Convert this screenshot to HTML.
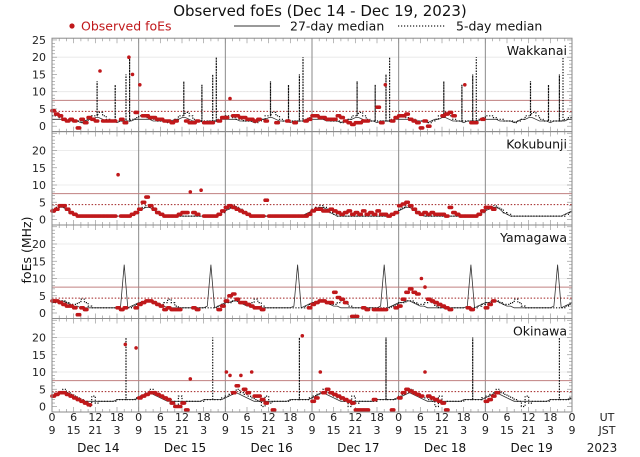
<!DOCTYPE html>
<html><head><meta charset="utf-8"><style>
html,body{margin:0;padding:0;background:#fff}
svg{display:block;font-family:"DejaVu Sans","Liberation Sans",sans-serif}
</style></head><body>
<svg id="chart" width="640" height="457" viewBox="0 0 640 457" xmlns="http://www.w3.org/2000/svg">
<text x="320" y="16" text-anchor="middle" font-size="15" fill="#111">Observed foEs (Dec 14 - Dec 19, 2023)</text>
<g>
<circle cx="72" cy="26" r="2.6" fill="#c0181b"/>
<text x="81" y="30.5" font-size="12.5" fill="#c0181b">Observed foEs</text>
<line x1="234" y1="26" x2="280" y2="26" stroke="#333" stroke-width="0.9"/>
<text x="290" y="30.5" font-size="12.5" fill="#111">27-day median</text>
<line x1="398" y1="26" x2="446" y2="26" stroke="#222" stroke-width="1.2" stroke-dasharray="1.2 1.8"/>
<text x="456" y="30.5" font-size="12.5" fill="#111">5-day median</text>
</g>
<text transform="translate(31,250) rotate(-90)" text-anchor="middle" font-size="12.5" fill="#111">foEs (MHz)</text>
<g id="panels"></g>
<g id="xaxis"></g>
</svg>
<script>
const stations = ["Wakkanai","Kokubunji","Yamagawa","Okinawa"];
const dayLabels = ["Dec 14","Dec 15","Dec 16","Dec 17","Dec 18","Dec 19"];
const utTicks = ["0","6","12","18"];
const jstTicks = ["9","15","21","3"];
const yTicksTop = [0,5,10,15,20,25];
const yTicks = [0,5,10,15,20];
const refSolid = 7.5;
const refDotted = 4.3;

// 27-day median, hourly (UT 0..23)
const med27Wakkanai = [2,2,2,2,1.5,1.5,1.5,1.5,1,1.5,2,2,2.5,2.5,2,1.5,1.5,1.5,1,1.5,1.5,1.5,1.5,2];
const med27Kokubunji = [2.5,3,3.5,3.5,3,2,1.5,1,1,1,1,1,1,1,1,1,1,1,1,1,1,1,1.5,2];
const med27Yamagawa = [3,3,3.5,3.5,3,2.5,2,2,1.5,1.5,1.5,1.5,1.5,1.5,1.5,1.5,1.5,1.5,1.5,2,14,1.5,2,2.5];
const med27Okinawa = [2.5,3,3.5,4,3.5,3,2.5,2,1.5,1.5,1.5,1.5,1.5,1.5,1.5,1.5,1.5,1.5,2,2,2,2,2,2];

// 5-day median, hourly (UT 0..23)
const med5Wakkanai = [3,3,2.5,2,2,1.5,1.5,1.5,1,1.5,2,3,13,4,3,2,1.5,12,1.5,1.5,15,20,2,2.5];
const med5Kokubunji = [3,3.5,4,3.5,3,2,1.5,1,1,1,1,1,1,1,1,1,1,1,1,1,1,1,1.5,2];
const med5Yamagawa = [3,3,3.5,3.5,3,2.5,2.5,3,4,3,2,1.5,1.5,1.5,1.5,1.5,1.5,1.5,1.5,1.5,1.5,1.5,2,2.5];
const med5Okinawa = [3,3.5,4,5,4,3.5,3,2.5,2,1.5,0,3,1,1.5,1.5,1.5,1.5,1.5,2,2,20,2,2,2.5];

// Observed foEs, hourly from Dec 14 00 UT
const obsWakkanai = [4.5,3.5,3,2,1.5,2,1.5,-0.5,2,1,2.5,2,1.5,16,1.5,1.5,1.5,1.5,null,2,1,20,15,4,
 12,3,3,2.5,2.5,2,2,1.5,1.5,1,1.5,null,null,1.5,1,1,1.5,null,1,1,1,null,1.5,2.5,
 2.5,8,3,3,2.5,2.5,2,2,1.5,2,null,1.5,null,null,1,null,null,1.5,null,1,null,null,1.5,2,
 3,3,2.5,2.5,2,2,2,3,2.5,1.5,1,0.5,1,1,1.5,1.5,null,null,5.5,1,12,null,1.5,2.5,
 3,3,3.5,2,1.5,1,-0.5,1.5,0,null,null,null,3,3.5,4,3,null,null,12,null,1,1,null,2];
const obsKokubunji = [2.5,3,4,4,3,2,1.5,1,1,1,1,1,1,1,1,1,1,1,13,1,1,1,1.5,2,
 3,5,6.5,4,3,2,1.5,1,1,1,1,1.5,2,2,8,2,1.5,8.5,1,1,1,1,1.5,2.5,
 3.5,4,3.5,3,2.5,2,1.5,1,1,1,1,5.6,1,1,1,1,1,1,1,1,1,1,1,1.5,
 2.5,3,3,2.5,2.5,3,2.5,2,1.5,2,2.5,1.5,2,1.5,2.5,1.5,2,1.5,2.5,1.5,1.5,1,1.5,2,
 4,4.5,5,4,3,2,1.5,2,1.5,2,1.5,1.5,1.5,1,3.5,2,1.5,1,1,1,1,1,1.5,2.5,
 3.5,3.5,3];
const obsYamagawa = [3.5,3.5,3,2.5,2,2,1.5,-0.5,1.5,1,null,null,null,null,null,null,null,null,1.5,1,1.5,null,null,1.5,
 2.5,3,3.5,3.5,3,2.5,2,1,1.5,1,1,1,null,null,null,1.5,1,null,null,null,null,null,1,2,
 3.5,5,5.5,4,3,3,2.5,2,1.5,1.5,1,null,null,null,null,null,null,null,null,null,null,null,null,1.5,
 2.5,3,3.5,3.5,3,3,6,4.5,4,3,null,-1,-1,null,1.5,1,null,1,1,1,1,null,null,1.5,
 2,4,6,7,6,5.5,10,7.5,4,3.5,3,2.5,2,1.5,1,null,null,null,null,1.5,1,null,null,null,
 1.5,2.5,3.5,null];
const obsOkinawa = [3,3.5,4,4,3.5,3,2.5,2,1.5,1,0.5,null,null,null,null,null,null,null,null,null,18,null,null,17,
 2.5,3,3.5,4,4,3.5,3,2.5,2,1,0,0,1,-1,8,null,null,null,null,null,null,null,null,null,
 10,9,4,6,9,5,4,10,3,3,2,1,null,-1,null,null,null,null,null,null,null,20.5,null,null,
 1.5,2.5,10,4,5,4,3.5,3,2.5,2,1.5,1,-1,-1,-1,-1,null,2,null,null,null,null,-1,null,
 2.5,4,5,4.5,4,3.5,3,10,3,2.5,2,1.5,1,-1,null,null,null,null,null,null,null,null,null,null,
 1.5,2,3,4];

const obsAll = [obsWakkanai,obsKokubunji,obsYamagawa,obsOkinawa];
const med27All = [med27Wakkanai,med27Kokubunji,med27Yamagawa,med27Okinawa];
const med5All = [med5Wakkanai,med5Kokubunji,med5Yamagawa,med5Okinawa];

const NS = "http://www.w3.org/2000/svg";
const X0 = 52, X1 = 572, DAYS = 6;
const panelBottoms = [131.7, 225, 318.5, 412];
const PH = 93.5, ZOFF = 5.5, YS = 3.45;
function xH(h){ return X0 + h*(X1-X0)/(DAYS*24); }
function mk(tag, attrs, parent){ const e=document.createElementNS(NS,tag); for(const k in attrs) e.setAttribute(k,attrs[k]); parent.appendChild(e); return e; }

const panelsG = document.getElementById("panels");
stations.forEach((st, si) => {
  const B = panelBottoms[si], T = B-PH;
  const yV = v => B - ZOFF - v*YS;
  const g = mk("g",{},panelsG);
  
  
  [10,20].forEach(v=>{ const l=mk("line",{x1:X0,x2:X1,y1:yV(v),y2:yV(v),stroke:"#e6e6e6","stroke-width":0.8},g);
    
     });
  for(let v=0; v<=25; v++){ const yy=yV(v); if(yy<T+1) continue;
    mk("line",{x1:X0,x2:X0+(v%5?3:5),y1:yy,y2:yy,stroke:"#999","stroke-width":0.7},g);
    mk("line",{x1:X1,x2:X1-(v%5?3:5),y1:yy,y2:yy,stroke:"#999","stroke-width":0.7},g); }
  for(let h=0; h<=144; h+=2){ const xx=xH(h), len = h%6?3:5;
    mk("line",{x1:xx,x2:xx,y1:B,y2:B-len,stroke:"#999","stroke-width":0.7},g);
    mk("line",{x1:xx,x2:xx,y1:T,y2:T+len,stroke:"#999","stroke-width":0.7},g); }
  for(let d=1; d<DAYS; d++){ const l=mk("line",{x1:xH(d*24),x2:xH(d*24),y1:T,y2:B,stroke:"#8a8a8a","stroke-width":1},g);
    
     }
  const r1=mk("line",{x1:X0,x2:X1,y1:yV(refSolid),y2:yV(refSolid),stroke:"#c08080","stroke-width":1},g);
  
  
  const r2=mk("line",{x1:X0,x2:X1,y1:yV(refDotted),y2:yV(refDotted),stroke:"#a02020","stroke-width":1,"stroke-dasharray":"1.5 1.8"},g);
  
  
  (si===0?yTicksTop:yTicks).forEach(v=>{ const t=mk("text",{x:46,y:yV(v)+4,"text-anchor":"end","font-size":11,fill:"#222"},g); t.textContent=v;
    
     });
  let d27=""; for(let h=0; h<=DAYS*24; h++){ const v=med27All[si][h%24]; d27+=(h?"L":"M")+xH(h).toFixed(1)+" "+yV(v).toFixed(1); }
  const p27=mk("path",{d:d27,fill:"none",stroke:"#333","stroke-width":0.8},g);
  
  
  // 5-day median: regular values as steps, large values as thin vertical spikes
  let d5="", last=med5All[si][23];
  for(let h=0; h<DAYS*24; h++){ const v=med5All[si][h%24];
    if(v>8){ const xs=xH(h+0.5).toFixed(1);
      d5+=(d5?"L":"M")+xs+" "+yV(last).toFixed(1)+"L"+xs+" "+yV(v).toFixed(1)+"L"+xs+" "+yV(last).toFixed(1);
    } else {
      d5+=(d5?"L":"M")+xH(h).toFixed(1)+" "+yV(v).toFixed(1)+"L"+xH(h+1).toFixed(1)+" "+yV(v).toFixed(1);
      last=v;
    } }
  const p5=mk("path",{d:d5,fill:"none",stroke:"#111","stroke-width":1.2,"stroke-dasharray":"1.2 1.6"},g);
  
  
  obsAll[si].forEach((v,h)=>{ if(v===null) return;
    const subs = v>7 ? [0.3] : [0,0.33,0.66];
    subs.forEach(s=>{ const c=mk("circle",{cx:xH(h+s).toFixed(1),cy:yV(v).toFixed(1),r:1.8,fill:"#c0181b"},g);
      
       }); });
  const fr=mk("rect",{x:X0,y:T,width:X1-X0,height:PH,fill:"none",stroke:"#8a8a8a","stroke-width":1},g);
  
  
  const lab=mk("text",{x:567,y:T+17,"text-anchor":"end","font-size":12.5,fill:"#111"},g); lab.textContent=st;
  
  
});
const xa=document.getElementById("xaxis");
for(let d=0; d<=DAYS; d++){
  for(let k=0;k<4;k++){ if(d===DAYS && k>0) break;
    const xx=xH(d*24+k*6);
    const t1=mk("text",{x:xx,y:421,"text-anchor":"middle","font-size":11,fill:"#222"},xa); t1.textContent=utTicks[k];
    
    
    const t2=mk("text",{x:xx,y:434,"text-anchor":"middle","font-size":11,fill:"#222"},xa); t2.textContent=jstTicks[k];
    
    
  }
  if(d<DAYS){ const t=mk("text",{x:xH(d*24+12)+3,y:452,"text-anchor":"middle","font-size":12,fill:"#111"},xa); t.textContent=dayLabels[d];
    
     }
}
[["UT",421],["JST",434],["2023",452]].forEach(([s,y])=>{ const t=mk("text",{x:s==="2023"?602:607,y:y,"text-anchor":"middle","font-size":s==="2023"?12:11,fill:"#222"},xa); t.textContent=s;
  
   });
</script>
</body></html>
